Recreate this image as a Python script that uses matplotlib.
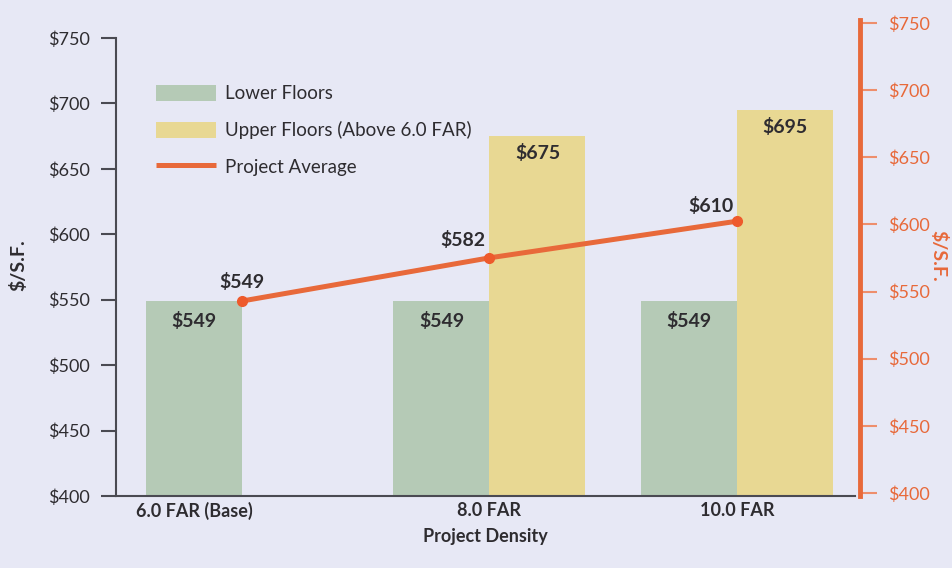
import matplotlib
matplotlib.use("Agg")
import matplotlib.pyplot as plt
import numpy as np

categories = ["6.0 FAR (Base)", "8.0 FAR", "10.0 FAR"]
lower_floors = [549, 549, 549]
upper_floors = [None, 675, 695]
project_avg = [549, 582, 610]
y_ticks = [400, 450, 500, 550, 600, 650, 700, 750]
tick_labels = ["$400", "$450", "$500", "$550", "$600", "$650", "$700", "$750"]

BG = "#E7E8F5"
GREEN = "#B5CAB6"
YELLOW = "#E8D893"
ORANGE = "#E8693A"
DOT = "#EE5A2C"
DARK = "#2E2C30"
AXC = "#4A4A52"

plt.rcParams['font.family'] = ['Lato', 'DejaVu Sans']

fig = plt.figure(figsize=(9.52, 5.68), dpi=100, facecolor=BG)
ax = fig.add_axes([116/952, 72/568, (855-116)/952, 458/568])
ax.set_facecolor(BG)

x = np.arange(len(categories))
w = 0.388
b1 = ax.bar(x - w, lower_floors, width=w, align='edge', color=GREEN, label="Lower Floors", zorder=2)
up_x = [xi for xi, v in zip(x, upper_floors) if v is not None]
up_v = [v for v in upper_floors if v is not None]
b2 = ax.bar(up_x, up_v, width=w, align='edge', color=YELLOW, label="Upper Floors (Above 6.0 FAR)", zorder=2)
l1, = ax.plot(x, project_avg, color=ORANGE, lw=3.6, zorder=3, label="Project Average",
              solid_capstyle='butt')
ax.plot(x, project_avg, 'o', color=DOT, ms=7, zorder=4)

ax.set_ylim(400, 750)
ax.set_xlim(-0.509, 2.477)
ax.set_yticks(y_ticks)
ax.set_yticklabels(tick_labels)

# bar value labels
for xi, v in zip(x, lower_floors):
    ax.annotate(f"${v}", (xi - w/2, v), xytext=(0, -8), textcoords='offset points',
                ha='center', va='top', fontsize=14, fontweight='bold', color=DARK, zorder=5)
for xi, v in zip(up_x, up_v):
    ax.annotate(f"${v}", (xi + w/2, v), xytext=(0, -6), textcoords='offset points',
                ha='center', va='top', fontsize=14, fontweight='bold', color=DARK, zorder=5)
line_offsets = [(0, 14), (-19, 13), (-19, 11)]
for xi, v, off in zip(x, project_avg, line_offsets):
    ax.annotate(f"${v}", (xi, v), xytext=off, textcoords='offset points',
                ha='center', va='center', fontsize=14, fontweight='bold', color=DARK, zorder=5)

ax.set_xticks([0 - w/2, 1, 2])
ax.set_xticklabels(categories, fontsize=13, fontweight='bold', color=DARK)
ax.tick_params(axis='x', length=0, pad=4)
ax.tick_params(axis='y', direction='out', length=11, width=1.5, color=AXC,
               labelsize=13, labelcolor=DARK, pad=8)
for s in ['top', 'right']:
    ax.spines[s].set_visible(False)
ax.spines['left'].set_color(AXC)
ax.spines['left'].set_linewidth(1.5)
ax.spines['bottom'].set_color(AXC)
ax.spines['bottom'].set_linewidth(1.5)

ax.set_xlabel("Project Density", fontsize=13, fontweight='bold', color=DARK, labelpad=6)
fig.text(18/952, 1 - 265/568, "$/S.F.", rotation=90, ha='center', va='center',
         fontsize=14, fontweight='bold', color=DARK)

leg = ax.legend([b1, b2, l1], ["Lower Floors", "Upper Floors (Above 6.0 FAR)", "Project Average"],
                loc='upper left', bbox_to_anchor=(0.044, 0.914), frameon=False,
                fontsize=13.5, handlelength=3.2, handleheight=0.95, labelspacing=1.0,
                handletextpad=0.5, borderaxespad=0)
for t in leg.get_texts():
    t.set_color(DARK)

# right axis
ax2 = fig.add_axes([860/952, 75/568, 0.0001, 470/568])
ax2.set_facecolor('none')
ax2.set_ylim(400, 750)
ax2.set_yticks(y_ticks)
ax2.set_yticklabels(tick_labels)
ax2.set_xticks([])
for s in ['top', 'left', 'bottom']:
    ax2.spines[s].set_visible(False)
ax2.spines['right'].set_color(ORANGE)
ax2.spines['right'].set_linewidth(3.5)
ax2.spines['right'].set_bounds(398, 752)
ax2.yaxis.tick_right()
ax2.tick_params(axis='y', direction='out', length=12, width=1.5, color="#EE8E6C",
                labelsize=13, labelcolor=ORANGE, pad=8)
fig.text(938/952, 1 - 256/568, "$/S.F.", rotation=270, ha='center', va='center',
         fontsize=14, fontweight='bold', color=ORANGE)

fig.savefig("out.png", dpi=100, facecolor=BG)
